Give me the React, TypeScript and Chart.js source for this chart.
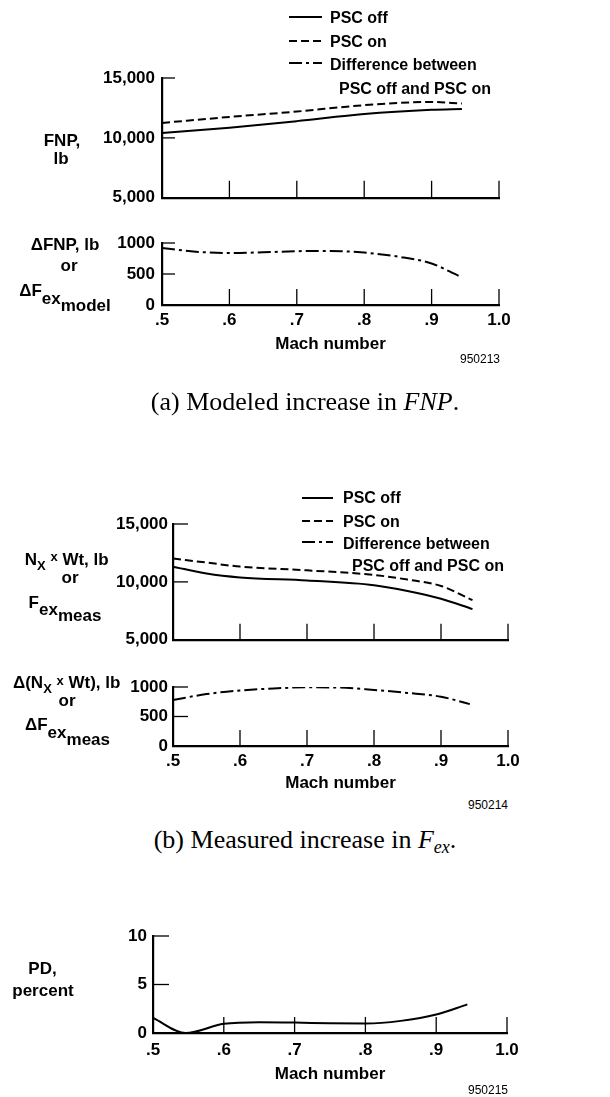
import React, { useEffect, useRef } from "react";
import { Chart, registerables } from "chart.js";

Chart.register(...registerables);

// ---------- data ----------
const machTicks = [0.5, 0.6, 0.7, 0.8, 0.9, 1.0];
const machTickLabels = [".5", ".6", ".7", ".8", ".9", "1.0"];

const forceTicks = [5000, 10000, 15000];
const forceTickLabels = ["5,000", "10,000", "15,000"];
const deltaTicks = [0, 500, 1000];
const deltaTickLabels = ["0", "500", "1000"];
const pdTicks = [0, 5, 10];
const pdTickLabels = ["0", "5", "10"];

// (a) Modeled
const machA = [0.5, 0.6, 0.7, 0.8, 0.9, 0.945];
const fnpOff = [10400, 10850, 11400, 12000, 12350, 12420];
const fnpOn = [11250, 11750, 12200, 12730, 13000, 12870];
const machADelta = [0.5, 0.55, 0.6, 0.65, 0.7, 0.75, 0.8, 0.85, 0.9, 0.94];
const fnpDelta = [920, 860, 838, 850, 868, 872, 845, 780, 670, 470];

// (b) Measured
const machB = [0.5, 0.55, 0.6, 0.7, 0.8, 0.85, 0.9, 0.947];
const nxwtOff = [11320, 10730, 10390, 10120, 9710, 9210, 8540, 7650];
const nxwtOn = [12020, 11670, 11320, 11000, 10600, 10200, 9650, 8420];
const machBDelta = [0.5, 0.55, 0.6, 0.65, 0.7, 0.75, 0.8, 0.85, 0.9, 0.943];
const nxwtDelta = [780, 880, 940, 975, 995, 990, 950, 900, 835, 710];

// (c) Percent difference
const machC = [0.5, 0.546, 0.6, 0.65, 0.7, 0.75, 0.8, 0.85, 0.9, 0.944];
const pdValues = [1.55, 0, 0.95, 1.12, 1.08, 1.0, 0.98, 1.25, 1.9, 2.95];

// ---------- styles ----------
const SANS = "'Liberation Sans', Arial, Helvetica, sans-serif";
const SERIF = "'Liberation Serif', 'Times New Roman', serif";
const SOLID: number[] = [];
const DASHED = [8, 4];
const DASHDOT = [13, 4, 3, 4];
const W = 610;

const pts = (xs: number[], ys: number[]) => xs.map((x, i) => ({ x, y: ys[i] }));

const line = (data: { x: number; y: number }[], dash: number[]) => ({
  data,
  borderColor: "#000",
  borderWidth: 2,
  borderDash: dash,
  pointRadius: 0,
  fill: false,
  cubicInterpolationMode: "monotone" as const,
});

const innerTicks = {
  id: "innerTicks",
  afterDatasetsDraw(chart: any, _args: any, opts: any) {
    const { ctx, chartArea, scales } = chart;
    ctx.save();
    ctx.strokeStyle = "#000";
    ctx.lineWidth = 1.3;
    ctx.setLineDash([]);
    const xs = scales.x;
    const ys = scales.y;
    xs.ticks.forEach((t: any) => {
      if (t.value <= xs.min) return;
      const px = xs.getPixelForValue(t.value);
      ctx.beginPath();
      ctx.moveTo(px, chartArea.bottom);
      ctx.lineTo(px, chartArea.bottom - opts.xLen);
      ctx.stroke();
    });
    ys.ticks.forEach((t: any) => {
      if (t.value <= ys.min) return;
      const py = ys.getPixelForValue(t.value);
      ctx.beginPath();
      ctx.moveTo(chartArea.left, py);
      ctx.lineTo(chartArea.left + opts.yLen, py);
      ctx.stroke();
    });
    (opts.samples || []).forEach((s: any) => {
      ctx.lineWidth = 2;
      ctx.setLineDash(s.dash);
      ctx.beginPath();
      ctx.moveTo(s.x1, s.y);
      ctx.lineTo(s.x2, s.y);
      ctx.stroke();
    });
    ctx.restore();
  },
};

type Spec = {
  top: number;
  height: number;
  left: number;
  right: number;
  areaTop: number;
  areaBottom: number;
  yMin: number;
  yMax: number;
  yTicks: number[];
  yLabels: string[];
  yPad: number;
  yLen: number;
  xLen: number;
  showX: boolean;
  xPad?: number;
  datasets: any[];
  samples?: any[];
};

function Panel({ spec }: { spec: Spec }) {
  const ref = useRef<HTMLCanvasElement>(null);
  useEffect(() => {
    const s = spec;
    const tickFont = { family: SANS, size: 17, weight: "bold" as const };
    const chart = new Chart(ref.current as HTMLCanvasElement, {
      type: "line",
      data: { datasets: s.datasets },
      plugins: [innerTicks],
      options: {
        animation: false,
        responsive: false,
        devicePixelRatio: 1,
        layout: { padding: { top: s.areaTop - s.top, right: W - s.right, bottom: 0, left: 0 } },
        plugins: {
          legend: { display: false },
          tooltip: { enabled: false },
          innerTicks: { xLen: s.xLen, yLen: s.yLen, samples: s.samples || [] },
        } as any,
        scales: {
          x: {
            type: "linear",
            min: 0.5,
            max: 1.0,
            afterBuildTicks: (sc: any) => {
              sc.ticks = machTicks.map((v) => ({ value: v }));
            },
            afterFit: (sc: any) => {
              sc.height = s.top + s.height - s.areaBottom;
            },
            ticks: {
              display: s.showX,
              autoSkip: false,
              maxRotation: 0,
              padding: s.xPad ?? 5,
              color: "#000",
              font: tickFont,
              callback: (v: any) => machTickLabels[machTicks.indexOf(Number(v))] ?? "",
            },
            grid: { display: false, drawTicks: false },
            border: { display: true, color: "#000", width: 2.2 },
            title: {
              display: s.showX,
              text: "Mach number",
              color: "#000",
              font: tickFont,
              padding: 0,
            },
          },
          y: {
            type: "linear",
            min: s.yMin,
            max: s.yMax,
            afterBuildTicks: (sc: any) => {
              sc.ticks = s.yTicks.map((v) => ({ value: v }));
            },
            afterFit: (sc: any) => {
              sc.width = s.left;
            },
            ticks: {
              padding: s.yPad,
              color: "#000",
              font: tickFont,
              callback: (v: any) => s.yLabels[s.yTicks.indexOf(Number(v))] ?? "",
            },
            grid: { display: false, drawTicks: false },
            border: { display: true, color: "#000", width: 2.2 },
          },
        },
      } as any,
    });
    return () => chart.destroy();
  }, [spec]);
  return (
    <canvas
      ref={ref}
      width={W}
      height={spec.height}
      style={{ position: "absolute", left: 0, top: spec.top, width: W, height: spec.height }}
    />
  );
}

// text helper, positioned by baseline
function Txt({
  x,
  b,
  size = 17,
  align = "center",
  bold = true,
  serif = false,
  children,
}: {
  x: number;
  b: number;
  size?: number;
  align?: "center" | "left" | "right";
  bold?: boolean;
  serif?: boolean;
  children: any;
}) {
  const k = serif ? 0.8375 : 0.8465;
  const style: any = {
    position: "absolute",
    top: b - k * size,
    fontSize: size,
    lineHeight: `${size}px`,
    fontFamily: serif ? SERIF : SANS,
    fontWeight: bold ? "bold" : "normal",
    whiteSpace: "nowrap",
    color: "#000",
  };
  if (align === "center") {
    style.left = x - 200;
    style.width = 400;
    style.textAlign = "center";
  } else if (align === "left") {
    style.left = x;
  } else {
    style.left = x - 400;
    style.width = 400;
    style.textAlign = "right";
  }
  return <div style={style}>{children}</div>;
}

const Sub = ({ dy, size, children }: { dy: number; size?: number; children: any }) => (
  <span style={{ position: "relative", top: dy, fontSize: size }}>{children}</span>
);

const specs: Spec[] = [
  {
    top: 0, height: 215, left: 162, right: 499, areaTop: 78, areaBottom: 200,
    yMin: 5000, yMax: 15000, yTicks: forceTicks, yLabels: forceTickLabels,
    yPad: 7, yLen: 13, xLen: 17, showX: false,
    datasets: [line(pts(machA, fnpOff), SOLID), line(pts(machA, fnpOn), DASHED)],
    samples: [
      { x1: 289, x2: 322, y: 17, dash: SOLID },
      { x1: 289, x2: 322, y: 41, dash: DASHED },
      { x1: 289, x2: 322, y: 63, dash: DASHDOT },
    ],
  },
  {
    top: 215, height: 140, left: 162, right: 499, areaTop: 243, areaBottom: 305,
    yMin: 0, yMax: 1000, yTicks: deltaTicks, yLabels: deltaTickLabels,
    yPad: 7, yLen: 13, xLen: 16, showX: true, xPad: 5,
    datasets: [line(pts(machADelta, fnpDelta), DASHDOT)],
  },
  {
    top: 450, height: 205, left: 173, right: 508, areaTop: 524, areaBottom: 643,
    yMin: 5000, yMax: 15000, yTicks: forceTicks, yLabels: forceTickLabels,
    yPad: 5, yLen: 15, xLen: 16, showX: false,
    datasets: [line(pts(machB, nxwtOff), SOLID), line(pts(machB, nxwtOn), DASHED)],
    samples: [
      { x1: 302, x2: 333, y: 48, dash: SOLID },
      { x1: 302, x2: 333, y: 71, dash: DASHED },
      { x1: 302, x2: 333, y: 92, dash: DASHDOT },
    ],
  },
  {
    top: 655, height: 139, left: 173, right: 508, areaTop: 687, areaBottom: 746,
    yMin: 0, yMax: 1000, yTicks: deltaTicks, yLabels: deltaTickLabels,
    yPad: 5, yLen: 15, xLen: 16, showX: true, xPad: 5,
    datasets: [line(pts(machBDelta, nxwtDelta), DASHDOT)],
  },
  {
    top: 900, height: 185, left: 153, right: 507, areaTop: 936, areaBottom: 1033,
    yMin: 0, yMax: 10, yTicks: pdTicks, yLabels: pdTickLabels,
    yPad: 6, yLen: 16, xLen: 16, showX: true, xPad: 7,
    datasets: [line(pts(machC, pdValues), SOLID)],
  },
];

export default function App() {
  return (
    <div
      style={{
        position: "absolute",
        left: 0,
        top: 0,
        width: W,
        height: 1097,
        background: "#fff",
        overflow: "hidden",
      }}
    >
      {specs.map((s, i) => (
        <Panel key={i} spec={s} />
      ))}

      {/* (a) legend */}
      <Txt x={330} b={24} size={16} align="left">PSC off</Txt>
      <Txt x={330} b={47.3} size={16} align="left">PSC on</Txt>
      <Txt x={330} b={70.7} size={16} align="left">Difference between</Txt>
      <Txt x={339} b={94.3} size={16} align="left">PSC off and PSC on</Txt>

      {/* (a) axis titles */}
      <Txt x={62} b={146.7}>FNP,</Txt>
      <Txt x={61} b={164}>lb</Txt>
      <Txt x={65} b={250}>ΔFNP, lb</Txt>
      <Txt x={69} b={271.7}>or</Txt>
      <Txt x={65} b={296}>
        ΔF<Sub dy={8.5}>ex<Sub dy={7}>model</Sub></Sub>
      </Txt>
      <Txt x={500} b={363} size={12} bold={false} align="right">950213</Txt>
      <Txt x={305} b={411} size={26} bold={false} serif>
        (a) Modeled increase in <i>FNP</i>.
      </Txt>

      {/* (b) legend */}
      <Txt x={343} b={504} size={16} align="left">PSC off</Txt>
      <Txt x={343} b={527.3} size={16} align="left">PSC on</Txt>
      <Txt x={343} b={550} size={16} align="left">Difference between</Txt>
      <Txt x={352} b={571.7} size={16} align="left">PSC off and PSC on</Txt>

      {/* (b) axis titles */}
      <Txt x={66.7} b={565}>
        N<Sub dy={5} size={13}>X</Sub> <Sub dy={-3.3} size={13}>x</Sub> Wt, lb
      </Txt>
      <Txt x={70} b={583}>or</Txt>
      <Txt x={65} b={608.3}>
        F<Sub dy={6.7}>ex<Sub dy={6.7}>meas</Sub></Sub>
      </Txt>
      <Txt x={66.7} b={688.3}>
        Δ(N<Sub dy={5} size={13}>X</Sub> <Sub dy={-3.3} size={13}>x</Sub> Wt), lb
      </Txt>
      <Txt x={67} b={706.7}>or</Txt>
      <Txt x={67.5} b={730}>
        ΔF<Sub dy={8}>ex<Sub dy={7}>meas</Sub></Sub>
      </Txt>
      <Txt x={508} b={809} size={12} bold={false} align="right">950214</Txt>
      <Txt x={305} b={849} size={26} bold={false} serif>
        (b) Measured increase in{" "}
        <i>
          F<Sub dy={5} size={18}>ex</Sub>
        </i>
        .
      </Txt>

      {/* (c) axis titles */}
      <Txt x={42.5} b={974}>PD,</Txt>
      <Txt x={43} b={996.7}>percent</Txt>
      <Txt x={508} b={1094} size={12} bold={false} align="right">950215</Txt>
    </div>
  );
}
